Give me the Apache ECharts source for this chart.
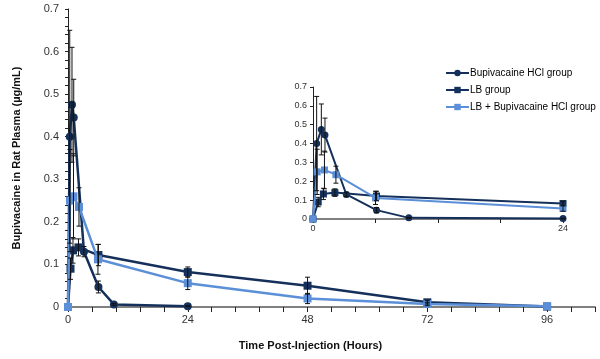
<!DOCTYPE html>
<html>
<head>
<meta charset="utf-8">
<script src="https://cdn.jsdelivr.net/npm/echarts@6/dist/echarts.min.js"></script>
<style>html,body{margin:0;padding:0;background:#fff}#c{width:600px;height:359px}</style>
</head>
<body>
<div id="c"></div>
<script>
// ---- data ----
const seriesNames = ['Bupivacaine HCl group', 'LB group', 'LB + Bupivacaine HCl group'];
const bupiTime  = [0, 0.35, 0.8, 1.15, 3.2, 6.1, 9.2, 24];
const bupiValue = [0, 0.40, 0.475, 0.445, 0.13, 0.047, 0.006, 0.002];
const bupiErr   = [0, 0.25, 0.135, 0.09, 0.012, 0.014, 0.002, 0.001];
const lbTime  = [0, 0.5, 1.0, 2.1, 6.1, 24, 48, 72, 96];
const lbValue = [0, 0.09, 0.133, 0.14, 0.122, 0.082, 0.05, 0.011, 0.001];
const lbErr   = [0, 0.025, 0.03, 0.02, 0.025, 0.012, 0.02, 0.004, 0];
const lbbTime  = [0, 0.4, 1.1, 2.2, 6.0, 24, 48, 72, 96];
const lbbValue = [0, 0.25, 0.26, 0.235, 0.112, 0.056, 0.02, 0.007, 0.002];
const lbbErr   = [0, 0.12, 0.1, 0.045, 0.035, 0.015, 0.012, 0.004, 0];
const xTickLabels = [0, 24, 48, 72, 96];
const insetXTickLabels = [0, 24];

// ---- styles ----
const dark = '#15305a';
const light = '#5b8fd8';
const font = 'Liberation Sans, Arial, sans-serif';

function pts(t, v, maxT) {
  const out = [];
  for (let i = 0; i < t.length; i++) if (maxT == null || t[i] <= maxT) out.push([t[i], v[i]]);
  return out;
}
function errPts(t, v, e, maxT) {
  const out = [];
  for (let i = 0; i < t.length; i++) if ((maxT == null || t[i] <= maxT) && e[i] > 0) out.push([t[i], v[i] - e[i], v[i] + e[i]]);
  return out;
}
function errSeries(data, xi, cap) {
  return {
    type: 'custom', xAxisIndex: xi, yAxisIndex: xi, z: 5, silent: true,
    data: data,
    renderItem: function (params, api) {
      const x = api.value(0);
      const lo = api.coord([x, Math.max(0, api.value(1))]);
      const hi = api.coord([x, api.value(2)]);
      const style = { stroke: '#111', lineWidth: 1 };
      return {
        type: 'group',
        children: [
          { type: 'line', shape: { x1: lo[0], y1: lo[1], x2: hi[0], y2: hi[1] }, style: style },
          { type: 'line', shape: { x1: hi[0] - cap, y1: hi[1], x2: hi[0] + cap, y2: hi[1] }, style: style },
          { type: 'line', shape: { x1: lo[0] - cap, y1: lo[1], x2: lo[0] + cap, y2: lo[1] }, style: style }
        ]
      };
    }
  };
}
function lineSeries(name, data, xi, color, symbol, size, width, z) {
  return {
    name: xi === 0 ? name : name + ' ', type: 'line', xAxisIndex: xi, yAxisIndex: xi,
    data: data, symbol: symbol, symbolSize: size, showSymbol: true, z: z,
    lineStyle: { color: color, width: width }, itemStyle: { color: color },
    emphasis: { disabled: true }, animation: false
  };
}

const chart = echarts.init(document.getElementById('c'), null, { renderer: 'canvas' });

const yFmt = function (v) {
  const r = Math.round(v * 10);
  if (Math.abs(v * 10 - r) < 1e-6) return String(r / 10);
  return '';
};

chart.setOption({
  animation: false,
  textStyle: { fontFamily: font },
  grid: [
    { left: 68, right: 5, top: 9, bottom: 52 },
    { left: 313, right: 37, top: 87, bottom: 140 }
  ],
  legend: {
    orient: 'vertical', left: 440, top: 63, itemGap: 7, itemWidth: 23, itemHeight: 8,
    data: seriesNames,
    textStyle: { fontFamily: font, fontSize: 10, color: '#000', padding: [0, 0, 0, -4] },
    selectedMode: false
  },
  xAxis: [
    {
      type: 'value', gridIndex: 0, min: 0, max: 105.6, interval: 4.8,
      name: 'Time Post-Injection (Hours)', nameLocation: 'middle', nameGap: 33,
      nameTextStyle: { fontFamily: font, fontSize: 11, fontWeight: 'bold', color: '#111', padding: [0, 42, 0, 0] },
      axisLine: { show: true, lineStyle: { color: '#808080', width: 2 } },
      axisTick: { show: true, length: 5, lineStyle: { color: '#222', width: 1 } },
      axisLabel: {
        fontSize: 11, color: '#333', margin: 7,
        formatter: function (v) {
          const r = Math.round(v);
          return (Math.abs(v - r) < 1e-6 && xTickLabels.indexOf(r) >= 0) ? String(r) : '';
        }
      },
      splitLine: { show: false }
    },
    {
      type: 'value', gridIndex: 1, min: 0, max: 24, interval: 6,
      axisLine: { show: true, lineStyle: { color: '#808080', width: 2 } },
      axisTick: { show: true, length: 4, lineStyle: { color: '#222', width: 1 } },
      axisLabel: {
        fontSize: 9, color: '#333', margin: 5,
        formatter: function (v) { return insetXTickLabels.indexOf(Math.round(v)) >= 0 ? String(Math.round(v)) : ''; }
      },
      splitLine: { show: false }
    }
  ],
  yAxis: [
    {
      type: 'value', gridIndex: 0, min: 0, max: 0.7, interval: 0.02,
      name: 'Bupivacaine in Rat Plasma (µg/mL)', nameLocation: 'middle', nameGap: 46,
      nameTextStyle: { fontFamily: font, fontSize: 11, fontWeight: 'bold', color: '#111' },
      axisLine: { show: true, lineStyle: { color: '#222', width: 1 } },
      axisTick: { show: true, length: 3, lineStyle: { color: '#222', width: 1 } },
      axisLabel: { fontSize: 11, color: '#333', margin: 9, formatter: yFmt },
      splitLine: { show: false }
    },
    {
      type: 'value', gridIndex: 1, min: 0, max: 0.7, interval: 0.1,
      axisLine: { show: true, lineStyle: { color: '#222', width: 1 } },
      axisTick: { show: true, length: 3, lineStyle: { color: '#222', width: 1 } },
      axisLabel: { fontSize: 9, color: '#333', margin: 6, formatter: yFmt },
      splitLine: { show: false }
    }
  ],
  series: [
    errSeries(errPts(bupiTime, bupiValue, bupiErr), 0, 2.5),
    errSeries(errPts(lbTime, lbValue, lbErr), 0, 2.5),
    errSeries(errPts(lbbTime, lbbValue, lbbErr), 0, 2.5),
    lineSeries(seriesNames[0], pts(bupiTime, bupiValue), 0, dark, 'circle', 8, 2.5, 2),
    lineSeries(seriesNames[1], pts(lbTime, lbValue), 0, dark, 'rect', 8, 2.5, 3),
    lineSeries(seriesNames[2], pts(lbbTime, lbbValue), 0, light, 'rect', 8, 2.5, 4),
    errSeries(errPts(bupiTime, bupiValue, bupiErr, 24), 1, 2.5),
    errSeries(errPts(lbTime, lbValue, lbErr, 24), 1, 2.5),
    errSeries(errPts(lbbTime, lbbValue, lbbErr, 24), 1, 2.5),
    lineSeries(seriesNames[0], pts(bupiTime, bupiValue, 24), 1, dark, 'circle', 7, 2, 2),
    lineSeries(seriesNames[1], pts(lbTime, lbValue, 24), 1, dark, 'rect', 7, 2, 3),
    lineSeries(seriesNames[2], pts(lbbTime, lbbValue, 24), 1, light, 'rect', 7, 2, 4)
  ]
});
</script>
</body>
</html>
